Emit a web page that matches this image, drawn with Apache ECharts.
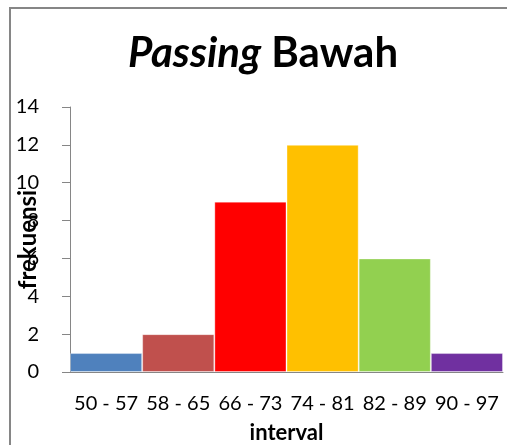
<!DOCTYPE html>
<html><head><meta charset="utf-8">
<script src="https://cdn.jsdelivr.net/npm/echarts@6/dist/echarts.min.js"></script>
<style>html,body{margin:0;padding:0;background:#fff;}#c{width:507px;height:445px;}</style>
</head><body><div id="c"></div>
<script>
const categories = ['50 - 57', '58 - 65', '66 - 73', '74 - 81', '82 - 89', '90 - 97'];
const frekuensi = [1, 2, 9, 12, 6, 1];
const yTicks = { min: 0, max: 14, interval: 2 };
const palette = ['#4F81BD', '#C0504D', '#FF0000', '#FFC000', '#92D050', '#7030A0'];

const chart = echarts.init(document.getElementById('c'));
const font = 'Lato, "Open Sans", sans-serif';
chart.setOption({
  animation: false,
  backgroundColor: '#fff',
  title: {
    left: 123, top: 27,
    text: '{i|Passing} {b|Bawah}',
    textStyle: {
      fontFamily: 'Lato', fontSize: 42, fontWeight: 'bold', color: '#000',
      rich: {
        i: { fontFamily: 'Lato', fontSize: 42, fontWeight: 'bold', fontStyle: 'italic', color: '#000' },
        b: { fontFamily: 'Lato', fontSize: 42, fontWeight: 'bold', color: '#000' }
      }
    }
  },
  graphic: [{
    type: 'rect', shape: { x: 10, y: 8, width: 520, height: 460 },
    style: { fill: 'none', stroke: '#868686', lineWidth: 2 }, silent: true
  }],
  grid: { left: 70, right: 4, top: 107, bottom: 73, containLabel: false, outerBoundsMode: 'none' },
  xAxis: {
    type: 'category', data: categories,
    name: 'interval', nameLocation: 'middle', nameGap: 50, nameMoveOverlap: false,
    nameTextStyle: { fontFamily: font, fontSize: 22, fontWeight: 'bold', color: '#000' },
    axisLine: { lineStyle: { color: '#868686', width: 1 } },
    axisTick: { show: false },
    axisLabel: { fontFamily: font, fontSize: 20, color: '#000', margin: 22, interval: 0 }
  },
  yAxis: {
    type: 'value', min: yTicks.min, max: yTicks.max, interval: yTicks.interval,
    name: 'frekuensi', nameLocation: 'middle', nameGap: 30, nameRotate: 90, nameMoveOverlap: false,
    nameTextStyle: { fontFamily: font, fontSize: 24, fontWeight: 'bold', color: '#000' },
    splitLine: { show: false },
    axisLine: { show: true, lineStyle: { color: '#868686', width: 1 } },
    axisTick: { show: true, length: 8, lineStyle: { color: '#868686' } },
    axisLabel: { fontFamily: font, fontSize: 20, color: '#000', margin: 31 }
  },
  series: [{
    type: 'bar',
    barCategoryGap: '0%',
    data: frekuensi.map((v, i) => ({ value: v, itemStyle: { color: palette[i] } })),
    itemStyle: { borderColor: 'rgba(255,255,255,0.35)', borderWidth: 1 }
  }]
});
</script></body></html>
